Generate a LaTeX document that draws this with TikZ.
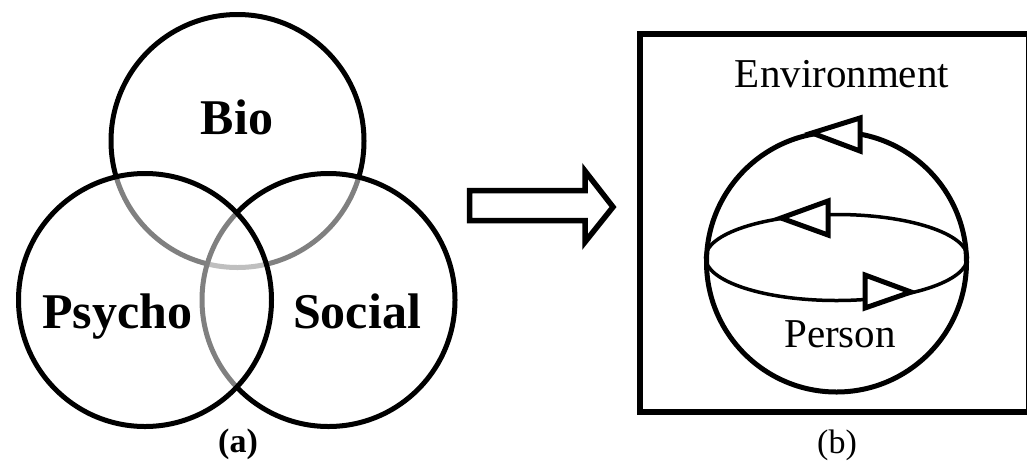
\documentclass[tikz,border=0pt]{standalone}
\usepackage{fontspec}
\setmainfont{Liberation Serif}
\usetikzlibrary{shapes.geometric}

\begin{document}
\begin{tikzpicture}[x=1pt, y=-1pt,
    venn/.style={draw, circle, line width=5pt, fill=white, fill opacity=0.5, draw opacity=1, minimum size=253pt, inner sep=0pt},
    vlabel/.style={font=\fontsize{50}{60}\selectfont\bfseries, anchor=base, inner sep=0pt},
    blabel/.style={font=\fontsize{41}{50}\selectfont, anchor=base, inner sep=0pt},
    caption/.style={font=\fontsize{34}{40}\selectfont, anchor=base, inner sep=0pt},
    opentri/.style={draw, fill=white, line width=5pt, line join=miter}]
                  \useasboundingbox (0,0) rectangle (1027,464);

                  % Panel (a): Venn circles
                  \node [venn] (bio) at (237.5,141) {};
                  \node [venn] (social) at (328.5,300) {};
                  \node [venn] (psycho) at (145,300) {};
                  \node [vlabel] (biotext) at (237,134) {Bio};
                  \node [vlabel] (psychotext) at (117,328) {Psycho};
                  \node [vlabel] (socialtext) at (357,328) {Social};
                  \node [caption, font=\fontsize{34}{40}\selectfont\bfseries] (capa) at (238,452) {(a)};

                  % Transition arrow
                  \draw [line width=5.5pt, line join=miter, fill=white] (469.5,190.5) -- (585,190.5) -- (585,171) -- (613,207) -- (585,242) -- (585,220.5) -- (469.5,220.5) -- cycle;

                  % Panel (b): person in environment
                  \node [draw, rectangle, line width=5.5pt, minimum width=389pt, minimum height=378pt, inner sep=0pt] (envbox) at (834.5,223) {};
                  \node [blabel] (envtext) at (842,87) {Environment};
                  \node [draw, circle, line width=5pt, minimum size=260pt, inner sep=0pt] (person) at (836.5,262) {};
                  \node [draw, ellipse, line width=3.5pt, minimum width=262pt, minimum height=86pt, inner sep=0pt] (equator) at (836.5,257.5) {};
                  \node [blabel] (persontext) at (840,347) {Person};
                  \node [caption] (capb) at (837,453) {(b)};

                  % Open arrowheads
                  \draw [opentri] (812,133) -- (860,118) -- (860,151) -- cycle;
                  \draw [opentri] (781,218) -- (828,201) -- (828,235) -- cycle;
                  \draw [opentri] (911,292) -- (865,275) -- (865,308) -- cycle;
              \end{tikzpicture}
\end{document}
